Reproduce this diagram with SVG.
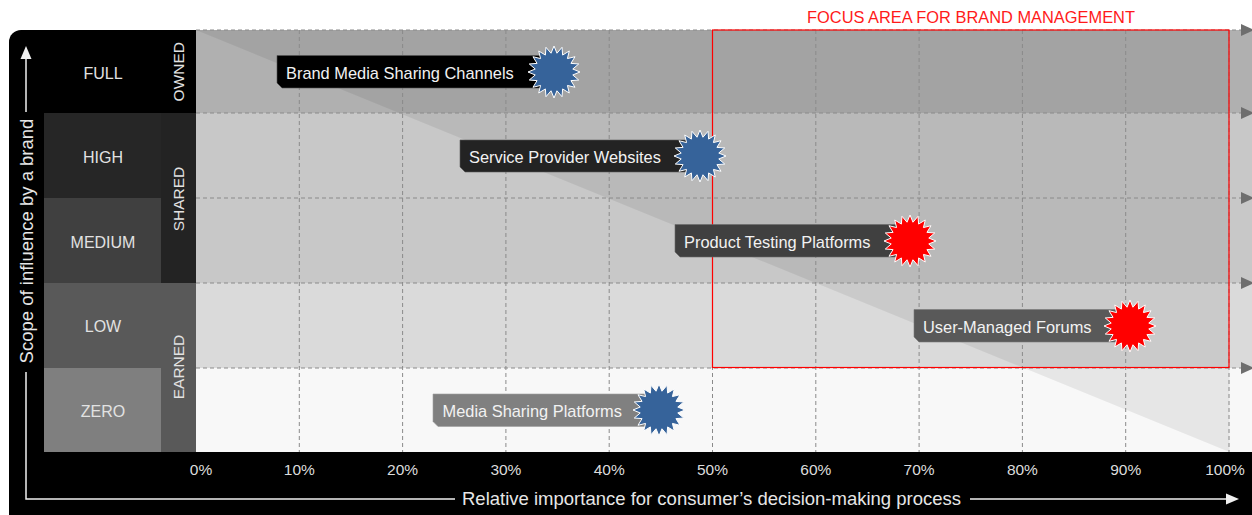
<svg xmlns="http://www.w3.org/2000/svg" width="1252" height="515" viewBox="0 0 1252 515">
<style>
.lbl{font-family:"Liberation Sans",Arial,sans-serif;font-size:16px;fill:#e2e2e2;text-anchor:middle}
.cat{font-family:"Liberation Sans",Arial,sans-serif;font-size:15.5px;fill:#e2e2e2;text-anchor:middle}
.tick{font-family:"Liberation Sans",Arial,sans-serif;font-size:15.5px;fill:#dcdcdc;text-anchor:middle}
.axt{font-family:"Liberation Sans",Arial,sans-serif;font-size:18.5px;fill:#e6e6e6}
.ct{font-family:"Liberation Sans",Arial,sans-serif;font-size:16.4px;fill:#f2f2f2}
.grid{stroke:#8a8a8a;stroke-width:1;stroke-dasharray:4 3;fill:none}
.ax{stroke:#f0f0f0;stroke-width:1.5;fill:none}
.blue{fill:#36639a;stroke:#ffffff;stroke-width:1}
.red{fill:#ff0000;stroke:#ffffff;stroke-width:1}
</style>
<defs>
<marker id="gArrow" markerUnits="userSpaceOnUse" markerWidth="14" markerHeight="12" refX="0" refY="6" orient="auto">
<path d="M0,0 L13,6 L0,12 Z" fill="#6e6e6e"/>
</marker>
<marker id="wArrow" markerUnits="userSpaceOnUse" markerWidth="14" markerHeight="12" refX="1" refY="6" orient="auto">
<path d="M0,0.5 L13,6 L0,11.5 Z" fill="#f0f0f0"/>
</marker>
<polygon id="star" points="26,0 18.77,2.97 24.73,8.03 16.93,8.63 21.03,15.28 13.43,13.43 15.28,21.03 8.63,16.93 8.03,24.73 2.97,18.77 0,26 -2.97,18.77 -8.03,24.73 -8.63,16.93 -15.28,21.03 -13.43,13.43 -21.03,15.28 -16.93,8.63 -24.73,8.03 -18.77,2.97 -26,0 -18.77,-2.97 -24.73,-8.03 -16.93,-8.63 -21.03,-15.28 -13.43,-13.43 -15.28,-21.03 -8.63,-16.93 -8.03,-24.73 -2.97,-18.77 0,-26 2.97,-18.77 8.03,-24.73 8.63,-16.93 15.28,-21.03 13.43,-13.43 21.03,-15.28 16.93,-8.63 24.73,-8.03 18.77,-2.97"/>
</defs>
<rect x="0" y="0" width="1252" height="515" fill="#ffffff"/>
<rect x="9" y="30" width="1260" height="500" rx="12" fill="#000000"/>
<g id="plot-bands">
<rect x="196" y="30" width="1056" height="83" fill="#b0b0b0"/>
<rect x="196" y="113" width="1056" height="170" fill="#c8c8c8"/>
<rect x="196" y="283" width="1056" height="85" fill="#dadada"/>
<rect x="196" y="368" width="1056" height="84" fill="#f8f8f8"/>
<polygon points="196,30 1229.5,30 1229.5,452" fill="#000000" fill-opacity="0.07"/>
</g>
<g id="scale-labels">
<rect x="44" y="30" width="117" height="83" fill="#000000"/>
<rect x="44" y="113" width="117" height="85" fill="#262626"/>
<rect x="44" y="198" width="117" height="85" fill="#404040"/>
<rect x="44" y="283" width="117" height="85" fill="#595959"/>
<rect x="44" y="368" width="117" height="84" fill="#7f7f7f"/>
<text class="lbl" x="103" y="78.7">FULL</text>
<text class="lbl" x="103" y="163.3">HIGH</text>
<text class="lbl" x="103" y="247.7">MEDIUM</text>
<text class="lbl" x="103" y="332.3">LOW</text>
<text class="lbl" x="103" y="416.7">ZERO</text>
</g>
<g id="categories">
<rect x="161" y="30" width="35" height="83" fill="#000000"/>
<rect x="161" y="113" width="35" height="170" fill="#232323"/>
<rect x="161" y="283" width="35" height="169" fill="#595959"/>
<text class="cat" transform="translate(184.2,71.7) rotate(-90)">OWNED</text>
<text class="cat" transform="translate(184.2,199) rotate(-90)">SHARED</text>
<text class="cat" transform="translate(184.2,367) rotate(-90)">EARNED</text>
</g>
<g id="connectors">
<g id="grid">
<line class="grid" x1="196" y1="30" x2="1241" y2="30" marker-end="url(#gArrow)"/>
<line class="grid" x1="196" y1="113" x2="1241" y2="113" marker-end="url(#gArrow)"/>
<line class="grid" x1="196" y1="198" x2="1241" y2="198" marker-end="url(#gArrow)"/>
<line class="grid" x1="196" y1="283" x2="1241" y2="283" marker-end="url(#gArrow)"/>
<line class="grid" x1="196" y1="368" x2="1241" y2="368" marker-end="url(#gArrow)"/>
<line class="grid" x1="299.3" y1="30" x2="299.3" y2="452"/>
<line class="grid" x1="402.6" y1="30" x2="402.6" y2="452"/>
<line class="grid" x1="505.9" y1="30" x2="505.9" y2="452"/>
<line class="grid" x1="609.2" y1="30" x2="609.2" y2="452"/>
<line class="grid" x1="712.5" y1="30" x2="712.5" y2="452"/>
<line class="grid" x1="815.8" y1="30" x2="815.8" y2="452"/>
<line class="grid" x1="919.1" y1="30" x2="919.1" y2="452"/>
<line class="grid" x1="1022.4" y1="30" x2="1022.4" y2="452"/>
<line class="grid" x1="1125.7" y1="30" x2="1125.7" y2="452"/>
<line class="grid" x1="1229" y1="30" x2="1229" y2="452"/>
</g>
<g id="axes">
<line class="ax" x1="26" y1="112" x2="26" y2="58" marker-end="url(#wArrow)"/>
<polyline class="ax" points="26,372 26,499 455,499"/>
<line class="ax" x1="970" y1="499" x2="1227" y2="499" marker-end="url(#wArrow)"/>
</g>
</g>
<g id="focus-area">
<rect x="712.5" y="30" width="516.5" height="337.5" fill="none" stroke="#ff0000" stroke-width="1.2"/>
<text x="971" y="23" font-family="'Liberation Sans',Arial,sans-serif" font-size="16.4" fill="#ff1a1a" text-anchor="middle">FOCUS AREA FOR BRAND MANAGEMENT</text>
</g>
<g id="ticks">
<text class="tick" x="201" y="474.5">0%</text>
<text class="tick" x="299.3" y="474.5">10%</text>
<text class="tick" x="402.6" y="474.5">20%</text>
<text class="tick" x="505.9" y="474.5">30%</text>
<text class="tick" x="609.2" y="474.5">40%</text>
<text class="tick" x="712.5" y="474.5">50%</text>
<text class="tick" x="815.8" y="474.5">60%</text>
<text class="tick" x="919.1" y="474.5">70%</text>
<text class="tick" x="1022.4" y="474.5">80%</text>
<text class="tick" x="1125.7" y="474.5">90%</text>
<text class="tick" x="1225" y="474.5">100%</text>
</g>
<g id="axis-titles">
<text class="axt" transform="translate(33.3,241) rotate(-90)" text-anchor="middle">Scope of influence by a brand</text>
<text class="axt" x="462" y="505">Relative importance for consumer’s decision-making process</text>
</g>
<g id="node-brand-media-sharing-channels">
<path d="M277,55.5 H554 V88 H282 L277,83 Z" fill="#000000" stroke="#555555" stroke-width="0.6"/>
<text class="ct" x="286" y="78.5">Brand Media Sharing Channels</text>
<use href="#star" class="blue" transform="translate(554,72)"/>
</g>
<g id="node-service-provider-websites">
<path d="M460,140 H700 V172 H465 L460,167 Z" fill="#232323" stroke="#5a5a5a" stroke-width="0.6"/>
<text class="ct" x="469" y="162.5">Service Provider Websites</text>
<use href="#star" class="blue" transform="translate(700,156)"/>
</g>
<g id="node-product-testing-platforms">
<path d="M675,224.5 H910 V257 H680 L675,252 Z" fill="#404040" stroke="#6a6a6a" stroke-width="0.6"/>
<text class="ct" x="684" y="247.5">Product Testing Platforms</text>
<use href="#star" class="red" transform="translate(910,241)"/>
</g>
<g id="node-user-managed-forums">
<path d="M914,309.5 H1130 V342 H919 L914,337 Z" fill="#595959" stroke="#7a7a7a" stroke-width="0.6"/>
<text class="ct" x="923" y="332.5">User-Managed Forums</text>
<use href="#star" class="red" transform="translate(1130,326)"/>
</g>
<g id="node-media-sharing-platforms">
<path d="M433,394 H659 V426.5 H438 L433,421.5 Z" fill="#808080" stroke="#a0a0a0" stroke-width="0.6"/>
<text class="ct" x="442.5" y="416.5">Media Sharing Platforms</text>
<use href="#star" class="blue" transform="translate(659,410)"/>
</g>
</svg>
